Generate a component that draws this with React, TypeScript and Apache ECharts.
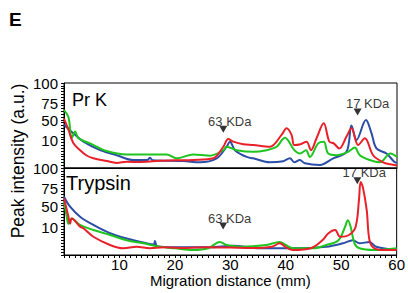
import React, { useEffect, useRef } from "react";
import * as echarts from "echarts";

const FONT = "Liberation Sans, Arial, sans-serif";
const RED = "#e8202a";
const BLUE = "#2b4ea6";
const GREEN = "#1fc41f";

// x ticks (mm)
const xTickLabels = [10, 20, 30, 40, 50, 60];
// y label positions (display units, 0 = panel bottom, 100 = panel top) and their labels
const yTickPos = [32, 56, 76, 100];
const yTickLabels = ["10", "50", "75", "100"];

// Pr K panel
const prkRed = [[0,58],[0.8,45],[1.7,29],[2.9,21],[4,15],[5.3,11.4],[7.7,8.2],[9.5,6],[11.3,7.4],[14,7],[17.3,8.6],[20,9],[23.3,9.4],[26.9,11.4],[28.7,25],[29.6,34],[30.5,31],[32.3,28],[34.1,27],[37.1,25],[39.2,39],[40.1,46.7],[41,39],[41.5,27],[42.6,28],[43.7,31],[44.5,21],[45.5,35],[46.8,52.6],[47.8,31],[48.6,29],[49.6,23],[50.9,37],[51.8,46.7],[53,27],[54.2,35],[55.7,15],[57.5,6.7],[58.8,4.3],[60,3]];
const prkBlue = [[0,51],[2,39],[3.5,31],[6.5,21],[9.5,15],[12.5,9.4],[15,9.4],[15.5,12],[16,9],[21.5,8.2],[24.5,6.7],[27.5,11.4],[29.3,25],[29.9,31],[30.8,21],[32.9,13],[34.1,11.4],[37.1,6.7],[39.5,8],[40.7,11.4],[41.5,6.7],[42.5,9.4],[43.4,5.5],[46.1,3.5],[48.5,11.4],[50.9,19],[51.8,50],[52.7,33],[54.4,56.5],[55.4,41],[56.3,23],[58.1,17],[59.5,7.4],[60,6]];
const prkGreen = [[0,68],[0.8,60],[1.4,35],[2,43],[2.6,35],[4.7,29],[7.7,20],[11.3,16],[15.5,16],[18.5,16],[20.3,11.4],[23.3,16],[26.3,14.5],[28.7,21],[29.3,25],[31.1,21],[34.1,19],[36.5,21],[38.3,25],[39.8,35.7],[41.5,21],[42.5,17],[43.6,21],[44.3,13],[45.8,29],[46.8,31],[47.6,17],[49.1,15],[51.2,19],[52.4,24],[53.3,15],[55.1,9.4],[56.9,6.7],[58.8,17],[60,13]];

// Trypsin panel
const trypRed = [[0,65],[0.8,44],[1.1,36],[1.4,42],[2.9,32.5],[3.5,30.7],[5.3,21],[8.3,11.5],[10.7,7.7],[13.1,9.5],[15.5,7.7],[18,8.8],[22,8],[26,9],[30,8.5],[34,8],[37.5,9.5],[38.9,13.4],[40,9],[41.3,5.7],[44.5,7.7],[46.6,17],[47.7,25],[48.9,28.7],[49.8,21],[51.4,23],[52.6,32.5],[53.2,63],[53.5,84],[53.9,78],[54.6,51.7],[55.1,17],[56,7.7],[58,5.7],[60,5.7]];
const trypBlue = [[0,67],[1.1,55.5],[2.9,44],[5.3,34.5],[8.3,25],[11.3,19],[14.9,13.4],[16.2,12],[16.4,16],[16.8,10],[20,8.8],[26.3,8.8],[30.5,10.7],[35.3,7.7],[41.3,7.7],[47.3,9.5],[50.3,13.4],[52.1,17],[53.3,13.4],[55.1,15],[56.3,9.5],[58.7,6.9],[60,6.5]];
const trypGreen = [[0,61],[0.5,44],[0.8,36],[1.4,42],[2.9,34.5],[5.3,28.7],[8.3,23],[11.3,17],[14.3,13.4],[17.3,9.5],[20,7.7],[23.3,5.7],[26,7.7],[28.1,15],[29.3,11.5],[32,9.5],[36.5,11.5],[38.9,15],[40,11.5],[41.3,7.7],[45,7.7],[47.3,11.5],[49.5,17],[50.7,32.5],[51.2,40],[51.7,32.5],[52.4,13.4],[53.3,7.7],[56,5.7],[60,7.7]];

// Marker annotations: [x mm, y display units, label]
const prkMarkers = [[28.7, 45.5, "63 KDa"], [52.9, 66, "17 KDa"]];
const trypMarkers = [[28.7, 33.3, "63 KDa"], [52.9, 85.4, "17 KDa"]];

export default function App() {
  const ref = useRef<HTMLDivElement>(null);
  useEffect(() => {
    if (!ref.current) return;
    const chart = echarts.init(ref.current, null, { renderer: "svg" });

    const xAxisBase = (gridIndex: number, showLabels: boolean) => ({
      type: "value",
      gridIndex,
      min: 0,
      max: 60,
      interval: 10,
      axisLine: { show: true, lineStyle: { color: "#000", width: 1 } },
      axisTick: { show: showLabels, inside: false, length: 3, lineStyle: { color: "#000" } },
      minorTick: { show: showLabels, splitNumber: 10, length: 3, lineStyle: { color: "#000" } },
      splitLine: { show: false },
      axisLabel: {
        show: showLabels,
        margin: 2,
        fontFamily: FONT,
        fontSize: 15,
        color: "#000",
        formatter: (v: number) => (xTickLabels.includes(v) ? String(v) : ""),
      },
      name: showLabels ? "Migration distance (mm)" : "",
      nameLocation: "middle",
      nameGap: 16,
      nameTextStyle: { fontFamily: FONT, fontSize: 15, color: "#000" },
    });

    const yAxisBase = (gridIndex: number) => ({
      type: "value",
      gridIndex,
      min: 0,
      max: 100,
      interval: 10,
      axisLine: { show: true, lineStyle: { color: "#000", width: 1 } },
      axisTick: { show: true, length: 3, lineStyle: { color: "#000" } },
      minorTick: { show: true, splitNumber: 3, length: 3, lineStyle: { color: "#000" } },
      splitLine: { show: false },
      axisLabel: {
        show: true,
        customValues: yTickPos,
        margin: 6,
        fontFamily: FONT,
        fontSize: 15,
        color: "#000",
        formatter: (v: number) => {
          const i = yTickPos.indexOf(v);
          return i >= 0 ? yTickLabels[i] : "";
        },
      },
    });

    const line = (data: number[][], color: string, idx: number) => ({
      type: "line",
      data,
      xAxisIndex: idx,
      yAxisIndex: idx,
      showSymbol: false,
      smooth: 0.35,
      lineStyle: { color, width: 2 },
      itemStyle: { color },
      z: 3,
    });

    const markers = (list: any[], idx: number, offsets: number[][]) => ({
      type: "scatter",
      xAxisIndex: idx,
      yAxisIndex: idx,
      symbol: "triangle",
      symbolRotate: 180,
      symbolSize: [8, 7],
      itemStyle: { color: "#000" },
      z: 5,
      data: list.map((m, i) => ({
        value: [m[0], m[1]],
        name: m[2],
        label: {
          show: true,
          position: "top",
          distance: 0,
          offset: offsets[i],
          formatter: m[2],
          fontFamily: FONT,
          fontSize: 13,
          color: "#000",
        },
      })),
    });

    chart.setOption({
      animation: false,
      backgroundColor: "#fff",
      grid: [
        { left: 64, right: 11, top: 83, height: 85, show: true, borderColor: "#000", borderWidth: 1, backgroundColor: "transparent" },
        { left: 64, right: 11, top: 168, height: 87, show: true, borderColor: "#000", borderWidth: 1, backgroundColor: "transparent" },
      ],
      xAxis: [xAxisBase(0, false), xAxisBase(1, true)],
      yAxis: [yAxisBase(0), yAxisBase(1)],
      series: [
        line(prkBlue, BLUE, 0),
        line(prkGreen, GREEN, 0),
        line(prkRed, RED, 0),
        line(trypBlue, BLUE, 1),
        line(trypGreen, GREEN, 1),
        line(trypRed, RED, 1),
        markers(prkMarkers, 0, [[6.5, 2], [10, 2]]),
        markers(trypMarkers, 1, [[6.5, 2], [7, 2]]),
      ],
      graphic: [
        { type: "text", left: 9, top: 10, style: { text: "E", font: `bold 19px ${FONT}`, fill: "#000" } },
        {
          type: "text",
          x: 18,
          y: 161,
          rotation: Math.PI / 2,
          style: { text: "Peak intensity (a.u.)", font: `17.5px ${FONT}`, fill: "#000", textAlign: "center", textVerticalAlign: "middle" },
        },
        { type: "text", x: 72, y: 100, style: { text: "Pr K", font: `18px ${FONT}`, fill: "#000", textVerticalAlign: "middle" } },
        { type: "text", x: 66, y: 183, style: { text: "Trypsin", font: `20px ${FONT}`, fill: "#000", textVerticalAlign: "middle" } },
      ],
    });
    return () => chart.dispose();
  }, []);
  return <div ref={ref} style={{ width: 408, height: 293, position: "absolute", left: 0, top: 0 }} />;
}
